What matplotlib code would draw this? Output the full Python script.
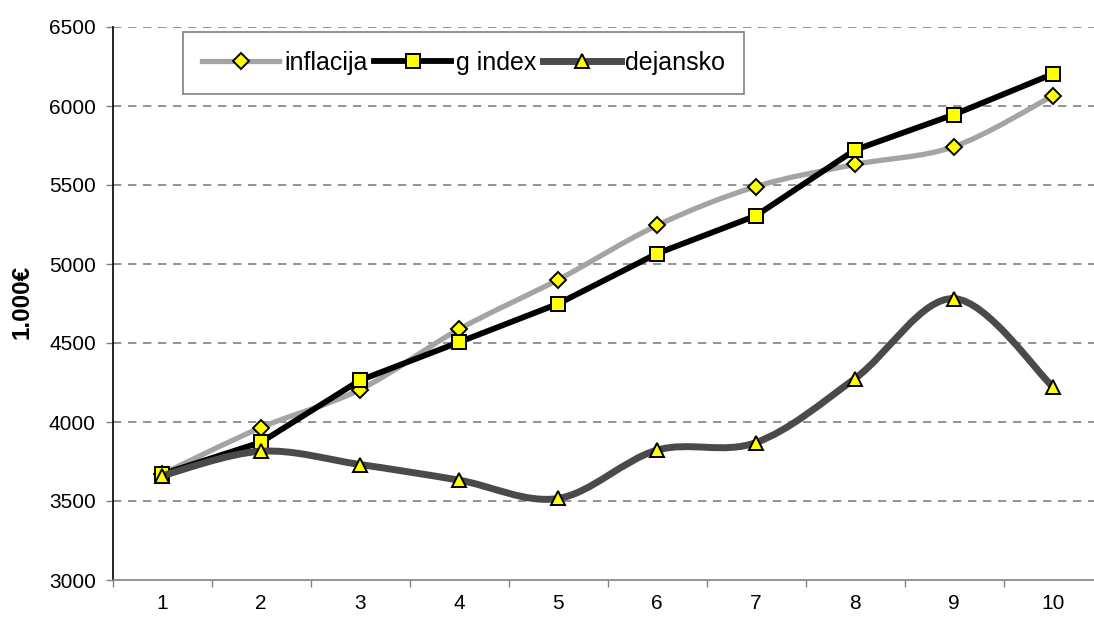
import matplotlib
matplotlib.use("Agg")
import matplotlib.pyplot as plt
from matplotlib.path import Path
from matplotlib.patches import PathPatch
from matplotlib.lines import Line2D
import numpy as np

plt.rcParams['font.family'] = ['Liberation Sans', 'DejaVu Sans']

categories = [1, 2, 3, 4, 5, 6, 7, 8, 9, 10]
inflacija = [3670, 3965, 4205, 4587, 4900, 5244, 5490, 5630, 5743, 6065]
g_index = [3670, 3872, 4264, 4505, 4748, 5066, 5306, 5722, 5946, 6203]
dejansko = [3660, 3815, 3731, 3632, 3516, 3822, 3870, 4275, 4781, 4222]
yticks = [3000, 3500, 4000, 4500, 5000, 5500, 6000, 6500]
ylabel = "1.000€"

W, H = 1094, 619
fig = plt.figure(figsize=(W / 100, H / 100), dpi=100)
ax = fig.add_axes([112.5 / W, 1 - 580 / H, 990 / W, 553 / H])


def smooth_path(xs, ys):
    pts = np.column_stack([xs, ys]).astype(float)
    n = len(pts)
    verts = [pts[0]]
    codes = [Path.MOVETO]
    for i in range(n - 1):
        p0 = pts[i - 1] if i > 0 else pts[i]
        p1 = pts[i]
        p2 = pts[i + 1]
        p3 = pts[i + 2] if i + 2 < n else pts[i + 1]
        c1 = p1 + (p2 - p0) / 6.0
        c2 = p2 - (p3 - p1) / 6.0
        verts += [c1, c2, p2]
        codes += [Path.CURVE4] * 3
    return Path(verts, codes)


yellow = '#FFFF00'
c_infl = '#a4a4a4'
c_dej = '#4a4a4a'
lw_infl, lw_g, lw_dej = 3.8, 4.2, 5.0

# inflacija (smoothed, light patterned gray)
ax.add_patch(PathPatch(smooth_path(categories, inflacija), fill=False,
                       edgecolor=c_infl, lw=lw_infl, capstyle='round',
                       joinstyle='round', zorder=3))
ax.plot(categories, inflacija, linestyle='none', marker='D', ms=8,
        mfc=yellow, mec='black', mew=1.4, zorder=4)

# g index (straight, black)
ax.plot(categories, g_index, color='black', lw=lw_g, marker='s', ms=10,
        mfc=yellow, mec='black', mew=1.4, zorder=5, solid_joinstyle='round')

# dejansko (smoothed, dark patterned gray)
ax.add_patch(PathPatch(smooth_path(categories, dejansko), fill=False,
                       edgecolor=c_dej, lw=lw_dej, capstyle='round',
                       joinstyle='round', zorder=6))
ax.plot(categories, dejansko, linestyle='none', marker='^', ms=10,
        mfc=yellow, mec='black', mew=1.4, zorder=7)

ax.set_xlim(0.5, 10.5)
ax.set_ylim(3000, 6500)
ax.set_yticks(yticks)
ax.set_yticklabels([str(v) for v in yticks], fontsize=15)
ax.set_xticks(categories)
ax.set_xticklabels([str(c) for c in categories], fontsize=15)
ax.set_xticks(np.arange(0.5, 11, 1.0), minor=True)
ax.tick_params(axis='x', which='major', length=0, pad=10)
ax.tick_params(axis='x', which='minor', length=5, width=1, color='#808080',
               direction='out')
ax.tick_params(axis='y', length=5, width=1, color='#808080', direction='out',
               pad=7)

for y in yticks[1:]:
    ax.axhline(y, color='#808080', lw=1.2, ls=(0, (5, 4)), zorder=1)

ax.spines['top'].set_visible(False)
ax.spines['right'].set_visible(False)
ax.spines['left'].set_color('black')
ax.spines['left'].set_linewidth(1.2)
ax.spines['bottom'].set_color('#808080')
ax.spines['bottom'].set_linewidth(1.2)

fig.text(22 / W, 1 - 302 / H, ylabel, rotation=90, fontsize=17.5,
         fontweight='bold', ha='center', va='center')

handles = [
    Line2D([], [], color=c_infl, lw=lw_infl, marker='D', ms=8, mfc=yellow,
           mec='black', mew=1.4),
    Line2D([], [], color='black', lw=lw_g, marker='s', ms=10, mfc=yellow,
           mec='black', mew=1.4),
    Line2D([], [], color=c_dej, lw=lw_dej, marker='^', ms=10, mfc=yellow,
           mec='black', mew=1.4),
]
leg = fig.legend(handles, ['inflacija', 'g index', 'dejansko'], ncol=3,
                 loc='upper left', bbox_to_anchor=(183 / W, 1 - 32 / H),
                 fontsize=18, handlelength=3.1, handletextpad=0.2,
                 columnspacing=0.25, borderpad=0.75, frameon=True,
                 fancybox=False, edgecolor='#808080', framealpha=1,
                 borderaxespad=0)
leg.get_frame().set_linewidth(1.2)

fig.savefig('out.png', dpi=100)
